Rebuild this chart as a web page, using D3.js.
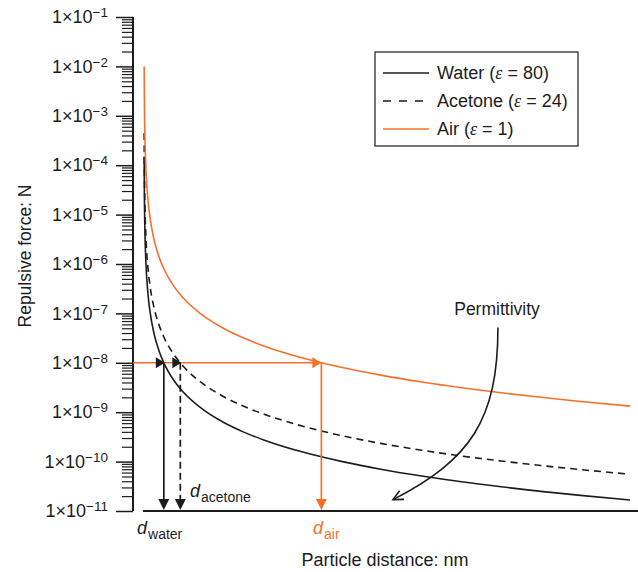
<!DOCTYPE html>
<html>
<head>
<meta charset="utf-8">
<script src="https://cdn.jsdelivr.net/npm/d3@7"></script>
<style>
  body { margin: 0; background: #fff; }
  svg, svg text { font-family: "Liberation Sans", Arial, sans-serif; }
</style>
</head>
<body>
<div id="chart"></div>
<script>
// values (distance in nm, force in N)
const waterDist = [0.0082, 0.01, 0.02, 0.05, 0.1, 0.2, 0.3, 0.5, 0.75, 1, 1.5, 2, 3, 4, 5, 6, 8, 10, 12, 14, 16, 18, 20, 22, 24.5];
const waterForce = [1.5e-4, 1e-4, 2.5e-5, 4e-6, 1e-6, 2.5e-7, 1.11e-7, 4e-8, 1.78e-8, 1e-8, 4.44e-9, 2.5e-9, 1.11e-9, 6.25e-10, 4e-10, 2.78e-10, 1.56e-10, 1e-10, 6.94e-11, 5.1e-11, 3.9e-11, 3.09e-11, 2.5e-11, 2.07e-11, 1.67e-11];

const acetoneDist = [0.0086, 0.01, 0.02, 0.05, 0.1, 0.2, 0.3, 0.5, 0.75, 1, 1.5, 2, 3, 4, 5, 6, 8, 10, 12, 14, 16, 18, 20, 22, 24.5];
const acetoneForce = [4.5e-4, 3.33e-4, 8.33e-5, 1.33e-5, 3.33e-6, 8.33e-7, 3.7e-7, 1.33e-7, 5.93e-8, 3.33e-8, 1.48e-8, 8.33e-9, 3.7e-9, 2.08e-9, 1.33e-9, 9.26e-10, 5.21e-10, 3.33e-10, 2.31e-10, 1.7e-10, 1.3e-10, 1.03e-10, 8.33e-11, 6.89e-11, 5.55e-11];

const airDist = [0.0089, 0.01, 0.02, 0.05, 0.1, 0.2, 0.3, 0.5, 0.75, 1, 1.5, 2, 3, 4, 5, 6, 8, 10, 12, 14, 16, 18, 20, 22, 24.5];
const airForce = [1e-2, 8e-3, 2e-3, 3.2e-4, 8e-5, 2e-5, 8.9e-6, 3.2e-6, 1.42e-6, 8e-7, 3.56e-7, 2e-7, 8.9e-8, 5e-8, 3.2e-8, 2.22e-8, 1.25e-8, 8e-9, 5.56e-9, 4.08e-9, 3.13e-9, 2.47e-9, 2e-9, 1.65e-9, 1.33e-9];

const tickExponents = [-1, -2, -3, -4, -5, -6, -7, -8, -9, -10, -11];

// distances where each curve reaches 1e-8 N
const targetForce = 1e-8;
const crossDist = { water: 1.0, acetone: 1.83, air: 8.94 };

const black = "#1c1c1c";
const orange = "#f7702a";

const width = 638, height = 572;
const svg = d3.select("#chart").append("svg")
  .attr("width", width)
  .attr("height", height);

const x = d3.scaleLinear().domain([0, 25]).range([144, 640]);
const y = d3.scaleLog().domain([1e-11, 1e-1]).range([511, 17]);
const axisX = 133;

// minor ticks
const minorTicks = [];
tickExponents.slice(0, -1).forEach(e => {
  for (let m = 2; m <= 9; m++) minorTicks.push(m * Math.pow(10, e - 1));
});

svg.append("g")
  .attr("transform", `translate(${axisX},0)`)
  .call(d3.axisLeft(y).tickValues(minorTicks).tickSize(11).tickFormat(""))
  .call(g => g.select(".domain").remove())
  .call(g => g.selectAll("line").attr("stroke", black).attr("stroke-width", 1.2));

// major ticks with labels
const yAxis = svg.append("g")
  .attr("transform", `translate(${axisX},0)`)
  .call(d3.axisLeft(y)
    .tickValues(tickExponents.map(e => Math.pow(10, e)))
    .tickSize(17)
    .tickPadding(8)
    .tickFormat(""));

yAxis.attr("font-family", null).attr("font-size", null);
yAxis.select(".domain").remove();
yAxis.selectAll("line").attr("stroke", black).attr("stroke-width", 1.5);
yAxis.selectAll(".tick text")
  .attr("fill", black)
  .style("font-size", "18px")
  .each(function (d) {
    const e = Math.round(Math.log10(d));
    const t = d3.select(this);
    t.append("tspan").text("1\u00d710");
    t.append("tspan").attr("dy", "-6").style("font-size", "13.5px").text("\u2212" + Math.abs(e));
  });

// axis lines
svg.append("line")
  .attr("x1", axisX).attr("x2", axisX)
  .attr("y1", y(1e-1)).attr("y2", y(1e-11))
  .attr("stroke", black).attr("stroke-width", 2);

svg.append("line")
  .attr("x1", x(0) - 1).attr("x2", width)
  .attr("y1", y(1e-11)).attr("y2", y(1e-11))
  .attr("stroke", black).attr("stroke-width", 2);

// axis titles
svg.append("text")
  .attr("x", 385).attr("y", 566)
  .attr("text-anchor", "middle")
  .style("font-size", "18px")
  .attr("fill", black)
  .text("Particle distance: nm");

svg.append("text")
  .attr("transform", "translate(31,256) rotate(-90)")
  .attr("text-anchor", "middle")
  .style("font-size", "17.5px")
  .attr("fill", black)
  .text("Repulsive force: N");

// curves
const line = d3.line()
  .x(d => x(d[0]))
  .y(d => y(d[1]))
  .curve(d3.curveMonotoneX);

const series = [
  { key: "water", dist: waterDist, force: waterForce, color: black, dash: null },
  { key: "acetone", dist: acetoneDist, force: acetoneForce, color: black, dash: "7,5" },
  { key: "air", dist: airDist, force: airForce, color: orange, dash: null }
];

svg.selectAll("path.curve")
  .data(series)
  .join("path")
  .attr("class", "curve")
  .attr("fill", "none")
  .attr("stroke", d => d.color)
  .attr("stroke-width", 1.6)
  .attr("stroke-dasharray", d => d.dash)
  .attr("d", d => line(d.dist.map((v, i) => [v, d.force[i]])));

// horizontal guide at 1e-8
const yT = y(targetForce);
svg.append("line")
  .attr("x1", axisX).attr("x2", x(crossDist.air) - 8)
  .attr("y1", yT).attr("y2", yT)
  .attr("stroke", orange).attr("stroke-width", 1.6);

function arrowRight(xTip, yTip, color) {
  svg.append("path")
    .attr("d", `M${xTip},${yTip} L${xTip - 9},${yTip - 5.5} L${xTip - 9},${yTip + 5.5} Z`)
    .attr("fill", color);
}
function arrowDown(xTip, yTip, color) {
  svg.append("path")
    .attr("d", `M${xTip},${yTip} L${xTip - 5.5},${yTip - 11} L${xTip + 5.5},${yTip - 11} Z`)
    .attr("fill", color);
}

arrowRight(x(crossDist.water) + 1, yT, black);
arrowRight(x(crossDist.acetone) + 1, yT, black);
arrowRight(x(crossDist.air), yT, orange);

// vertical drops
const drops = [
  { d: crossDist.water, color: black, dash: null },
  { d: crossDist.acetone, color: black, dash: "7,4" },
  { d: crossDist.air, color: orange, dash: null }
];
drops.forEach(p => {
  svg.append("line")
    .attr("x1", x(p.d)).attr("x2", x(p.d))
    .attr("y1", yT).attr("y2", y(1e-11) - 9)
    .attr("stroke", p.color).attr("stroke-width", 1.7)
    .attr("stroke-dasharray", p.dash);
  arrowDown(x(p.d), y(1e-11) - 1, p.color);
});

// d labels
function dLabel(xPos, yPos, sub, color) {
  const t = svg.append("text")
    .attr("x", xPos).attr("y", yPos)
    .attr("fill", color)
    .style("font-size", "18px");
  t.append("tspan").style("font-style", "italic").text("d");
  t.append("tspan").attr("dy", 5).attr("dx", 1).style("font-size", "14px").text(sub);
}
dLabel(137, 534, "water", black);
dLabel(190, 497, "acetone", black);
dLabel(313, 534, "air", orange);

// permittivity annotation
svg.append("text")
  .attr("x", 497).attr("y", 315)
  .attr("text-anchor", "middle")
  .style("font-size", "17.5px")
  .attr("fill", black)
  .text("Permittivity");

const annot = [[17.84, 5.2e-8], [17.84, 6.9e-10], [16.43, 1.07e-10], [12.55, 1.7e-11]];
const pA = annot.map(a => [x(a[0]), y(a[1])]);
svg.append("path")
  .attr("d", `M${pA[0]} C${pA[1]} ${pA[2]} ${pA[3]}`)
  .attr("fill", "none")
  .attr("stroke", black)
  .attr("stroke-width", 1.6);
// arrowhead at end of annotation curve
{
  const [ex, ey] = pA[3];
  const [cx, cy] = pA[2];
  const ang = Math.atan2(ey - cy, ex - cx);
  const len = 11, half = 0.45;
  svg.append("path")
    .attr("d", `M${ex - len * Math.cos(ang - half)},${ey - len * Math.sin(ang - half)} L${ex},${ey} L${ex - len * Math.cos(ang + half)},${ey - len * Math.sin(ang + half)}`)
    .attr("fill", "none")
    .attr("stroke", black)
    .attr("stroke-width", 1.6);
}

// legend
const legend = svg.append("g");
legend.append("rect")
  .attr("x", 375).attr("y", 52)
  .attr("width", 203).attr("height", 94)
  .attr("fill", "#fff")
  .attr("stroke", black)
  .attr("stroke-width", 1.2);

const legendItems = [
  { name: "Water", eps: "80", color: black, dash: null },
  { name: "Acetone", eps: "24", color: black, dash: "8,8" },
  { name: "Air", eps: "1", color: orange, dash: null }
];
legendItems.forEach((item, i) => {
  const ly = 73 + i * 28;
  legend.append("line")
    .attr("x1", 383).attr("x2", 429)
    .attr("y1", ly).attr("y2", ly)
    .attr("stroke", item.color).attr("stroke-width", 1.6)
    .attr("stroke-dasharray", item.dash);
  const t = legend.append("text")
    .attr("x", 437).attr("y", ly + 6)
    .style("font-size", "18px")
    .attr("fill", black);
  t.append("tspan").text(item.name + " (");
  t.append("tspan").style("font-family", "'Liberation Serif', serif").style("font-style", "italic").text("\u03b5");
  t.append("tspan").text(" = " + item.eps + ")");
});
</script>
</body>
</html>
